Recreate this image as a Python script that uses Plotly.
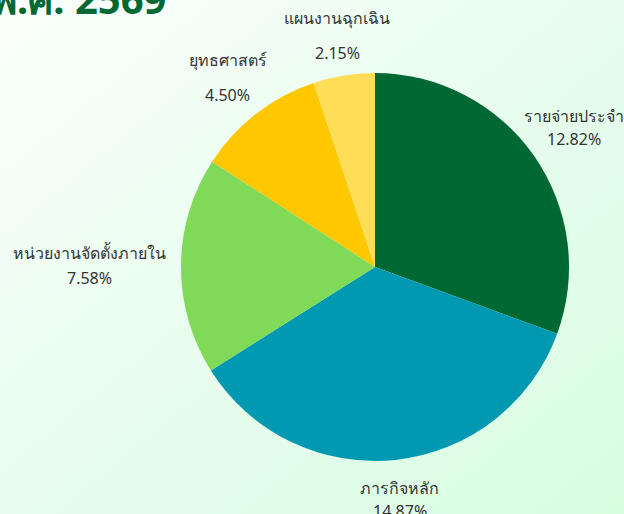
import base64
import math
import plotly.graph_objects as go

categories = ["รายจ่ายประจำ", "ภารกิจหลัก", "หน่วยงานจัดตั้งภายใน", "ยุทธศาสตร์", "แผนงานฉุกเฉิน"]
values = [12.82, 14.87, 7.58, 4.50, 2.15]
colors = ["#006833", "#0099B1", "#80DA58", "#FFC700", "#FFDD57"]
title_text = "พ.ศ. 2569"

W, H = 624, 514
# pie geometry (pixels)
CX, CY, R = 375, 267, 194
# distance of each label block centre from the pie centre, and gap between name and value lines
label_r = [243, 234, 286, 240, 235]
line_gap = [23, 23, 25, 35, 35]

svg = ('<svg xmlns="http://www.w3.org/2000/svg" width="624" height="514" preserveAspectRatio="none">'
       '<defs><linearGradient id="g" x1="0" y1="0" x2="1" y2="1">'
       '<stop offset="0" stop-color="#fbfffc"/><stop offset="0.5" stop-color="#e8fdee"/>'
       '<stop offset="1" stop-color="#d7fde1"/>'
       '</linearGradient></defs><rect width="624" height="514" fill="url(#g)"/></svg>')
bg = "data:image/svg+xml;base64," + base64.b64encode(svg.encode()).decode()

fig = go.Figure(go.Pie(
    labels=categories,
    values=values,
    marker=dict(colors=colors, line=dict(width=0)),
    sort=False,
    direction="clockwise",
    rotation=0,
    textinfo="none",
    domain=dict(x=[(CX - R) / W, (CX + R) / W], y=[1 - (CY + R) / H, 1 - (CY - R) / H]),
    showlegend=False,
    hoverinfo="label+value",
))

font = dict(family="Noto Sans, sans-serif", size=16, color="#333333")
annotations = []
total = sum(values)
cum = 0.0
for i, (name, v) in enumerate(zip(categories, values)):
    mid = (cum + v / 2) / total * 2 * math.pi
    cum += v
    px = CX + label_r[i] * math.sin(mid)
    py = CY - label_r[i] * math.cos(mid)
    x = px / W
    y = 1 - py / H
    annotations.append(dict(text=name, x=x, y=y, xref="paper", yref="paper",
                            xanchor="center", yanchor="middle", showarrow=False,
                            yshift=line_gap[i] / 2, font=font))
    annotations.append(dict(text=f"{v:.2f}%", x=x, y=y, xref="paper", yref="paper",
                            xanchor="center", yanchor="middle", showarrow=False,
                            yshift=-line_gap[i] / 2, font=font))

annotations.append(dict(text=f"<b>{title_text}</b>", xref="paper", yref="paper",
                        x=168 / W, y=1 + 2 / H, xanchor="right", yanchor="middle",
                        showarrow=False,
                        font=dict(family="Noto Sans, sans-serif", size=40, color="#006833")))

fig.update_layout(
    width=W, height=H,
    margin=dict(l=0, r=0, t=0, b=0),
    paper_bgcolor="#e8fdee",
    plot_bgcolor="rgba(0,0,0,0)",
    images=[dict(source=bg, xref="paper", yref="paper", x=0, y=1, sizex=1, sizey=1,
                 sizing="stretch", layer="below", xanchor="left", yanchor="top")],
    annotations=annotations,
)

fig.write_html("out.html",
               config={"displayModeBar": False},
               post_script="document.body.style.margin='0';document.body.style.overflow='hidden';")
